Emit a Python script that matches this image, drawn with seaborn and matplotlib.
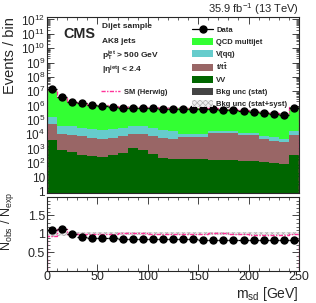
import numpy as np
import pandas as pd
import seaborn as sns
import matplotlib.pyplot as plt
from matplotlib import ticker
from matplotlib.lines import Line2D
from matplotlib.patches import Patch

# soft-drop mass binning, 10 GeV bins
edges = np.arange(0, 260, 10)
centers = edges[:-1] + 5

data = [1.4e7, 4.0e6, 1.9e6, 1.45e6, 1.05e6, 9.4e5, 7.9e5, 7.2e5, 7.2e5, 6.5e5,
        6.5e5, 6.2e5, 6.2e5, 6.2e5, 5.8e5, 5.8e5, 5.5e5, 4.9e5, 4.7e5, 4.2e5,
        3.8e5, 3.2e5, 2.7e5, 2.3e5, 6.5e5]

# stacked heights (top of each layer)
qcd_top = [1.27e7, 3.52e6, 1.88e6, 1.56e6, 1.18e6, 1.06e6, 9.0e5, 8.3e5, 8.3e5, 7.6e5,
           7.6e5, 7.3e5, 7.3e5, 7.3e5, 6.8e5, 6.9e5, 6.5e5, 5.8e5, 5.6e5, 5.0e5,
           4.5e5, 3.8e5, 3.2e5, 2.75e5, 7.8e5]
vqq_top = [1.7e5, 4.0e4, 3.6e4, 2.8e4, 2.4e4, 2.1e4, 2.4e4, 2.8e4, 3.6e4, 3.6e4,
           2.8e4, 1.9e4, 1.6e4, 1.1e4, 1.1e4, 1.1e4, 1.6e4, 1.6e4, 1.6e4, 1.3e4,
           1.3e4, 8.0e3, 6.0e3, 4.5e3, 1.6e4]
tt_top = [4.8e4, 1.1e4, 9.5e3, 7.2e3, 5.5e3, 5.0e3, 5.5e3, 8.0e3, 1.1e4, 1.1e4,
          8.0e3, 5.5e3, 4.7e3, 6.6e3, 6.6e3, 6.6e3, 1.25e4, 1.25e4, 1.25e4, 9.5e3,
          9.5e3, 5.0e3, 3.5e3, 2.8e3, 9.5e3]
vv = [4.2e3, 830, 540, 370, 316, 280, 370, 490, 1100, 830,
      440, 220, 185, 185, 185, 185, 165, 165, 165, 140,
      140, 110, 97, 85, 370]

herwig_ratio = [0.94, 1.14, 1.0, 1.0, 1.0, 1.0, 1.01, 1.02, 1.02, 1.02,
                1.01, 1.0, 1.0, 1.0, 1.0, 1.01, 1.02, 1.02, 1.01, 1.0,
                0.98, 0.98, 0.98, 0.98, 0.99]
unc_syst = [0.07, 0.06, 0.05, 0.045, 0.04, 0.04, 0.04, 0.04, 0.04, 0.04,
            0.04, 0.04, 0.04, 0.04, 0.04, 0.04, 0.04, 0.04, 0.04, 0.04,
            0.04, 0.04, 0.04, 0.04, 0.04]
unc_stat = [0.01] * 25

sns.set_style("ticks")
plt.rcParams['font.family'] = ['Liberation Sans', 'DejaVu Sans']
plt.rcParams['mathtext.fontset'] = 'custom'
plt.rcParams['mathtext.rm'] = 'Liberation Sans'
plt.rcParams['mathtext.it'] = 'Liberation Sans:italic'
plt.rcParams['mathtext.bf'] = 'Liberation Sans:bold'
plt.rcParams['hatch.linewidth'] = 0.5
plt.rcParams['axes.linewidth'] = 0.8

fig = plt.figure(figsize=(3.16, 3.03), dpi=100)
ax = fig.add_axes([0.149, 0.363, 0.797, 0.581])
rax = fig.add_axes([0.149, 0.106, 0.797, 0.244])

c_qcd, c_vqq, c_tt, c_vv = '#33ff33', '#66cccc', '#996666', '#006600'
pink = '#ff3399'
band_face, band_edge = '#eeeeee', '#b0b0b0'

ax.set_yscale('log')
for vals, col in [(qcd_top, c_qcd), (vqq_top, c_vqq), (tt_top, c_tt), (vv, c_vv)]:
    df = pd.DataFrame({'msd': centers, 'w': vals})
    sns.histplot(data=df, x='msd', weights='w', binwidth=10, binrange=(0, 250),
                 element='step', fill=True, color=col, alpha=1, linewidth=0, ax=ax)

total = np.array(qcd_top)
ext = lambda a: np.append(a, a[-1])
syst = np.array(unc_syst)
stat = np.array(unc_stat)
ax.fill_between(edges, ext(total * (1 - syst)), ext(total * (1 + syst)), step='post',
                facecolor=band_face, edgecolor=band_edge, hatch='xxxxxx', linewidth=0)
ax.stairs(total * np.array(herwig_ratio), edges, color=pink, lw=1.0, ls=(0, (3, 1, 1, 1)))
ax.errorbar(centers, data, xerr=5, fmt='o', color='k', ms=5, lw=0.9, capsize=0)

ax.set_xlim(0, 250)
ax.set_ylim(0.8, 1.5e12)
ax.yaxis.set_major_locator(ticker.LogLocator(base=10, numticks=30))
ax.yaxis.set_minor_locator(ticker.LogLocator(base=10, subs=np.arange(2, 10), numticks=300))
ax.yaxis.set_minor_formatter(ticker.NullFormatter())


def pow_fmt(v, pos):
    if v < 1.5:
        return '1'
    if v < 15:
        return '10'
    return r'$10^{%d}$' % round(np.log10(v))


ax.yaxis.set_major_formatter(ticker.FuncFormatter(pow_fmt))
ax.set_xticklabels([])
ax.set_xlabel('')
ax.set_ylabel('Events / bin', fontsize=10.5, loc='top')
ax.yaxis.set_label_coords(-0.119, 1.0)

# ratio panel
ratio = np.array(data) / total
rax.fill_between(edges, ext(1 - syst), ext(1 + syst), step='post',
                 facecolor=band_face, edgecolor=band_edge, hatch='xxxxxx', linewidth=0)
rax.fill_between(edges, ext(1 - stat), ext(1 + stat), step='post',
                 facecolor='#888888', linewidth=0)
rax.stairs(herwig_ratio, edges, color=pink, lw=1.0, ls=(0, (3, 1, 1, 1)))
rax.errorbar(centers, ratio, xerr=5, fmt='o', color='k', ms=5, lw=0.9, capsize=0)
rax.set_xlim(0, 250)
rax.set_ylim(0, 2)
rax.set_yticks([0.5, 1, 1.5])
rax.set_yticklabels(['0.5', '1', '1.5'])
rax.yaxis.set_minor_locator(ticker.MultipleLocator(0.1))
rax.set_xlabel(r'$\mathregular{m_{sd}}$ [GeV]', fontsize=10, loc='right')
rax.xaxis.set_label_coords(1.0, -0.19)
rax.set_ylabel(r'$\mathregular{N_{obs}}$ / $\mathregular{N_{exp}}$', fontsize=9, loc='top')
rax.yaxis.set_label_coords(-0.125, 1.06)

for a in (ax, rax):
    a.xaxis.set_major_locator(ticker.MultipleLocator(50))
    a.xaxis.set_minor_locator(ticker.MultipleLocator(10))
    a.tick_params(which='both', direction='in', top=True, right=True, labelsize=8.5, pad=1.5)
    a.tick_params(which='major', length=5, width=0.6)
    a.tick_params(which='minor', length=2.5, width=0.5)
rax.tick_params(axis='x', labelsize=9, pad=0)
rax.tick_params(axis='y', labelsize=9)

# annotations
ax.text(0.063, 0.905, 'CMS', transform=ax.transAxes, fontsize=10.4, fontweight='bold', va='center')
ax.text(1.0, 1.02, r'35.9 fb$^{-1}$ (13 TeV)', transform=ax.transAxes, fontsize=8,
        ha='right', va='baseline')
info = ['Dijet sample', 'AK8 jets', r'$\mathbf{p_T^{jet}}$ > 500 GeV', r'|$\mathbf{\eta^{jet}}$| < 2.4']
for s, yp in zip(info, [27, 41.5, 55.5, 70.5]):
    ax.text(0.217, 1 - (yp - 17) / 176, s, transform=ax.transAxes, fontsize=6.0,
            fontweight='bold', va='center')

handles = [
    Line2D([], [], color='k', marker='o', ms=5, lw=0.9),
    Patch(facecolor=c_qcd, edgecolor='none'),
    Patch(facecolor=c_vqq, edgecolor='none'),
    Patch(facecolor=c_tt, edgecolor='none'),
    Patch(facecolor=c_vv, edgecolor='none'),
    Patch(facecolor='#444444', edgecolor='none'),
    Patch(facecolor=band_face, edgecolor=band_edge, hatch='xxxxxx', linewidth=0),
]
labels = ['Data', 'QCD multijet', 'V(qq)', r'$\mathbf{t/t\bar{t}}$', 'VV',
          'Bkg unc (stat)', 'Bkg unc (stat+syst)']
leg = ax.legend(handles, labels, loc='upper left', bbox_to_anchor=(0.575, 0.948),
                frameon=False, prop={'size': 5.5, 'weight': 'bold'},
                handlelength=2.8, handleheight=1.1, handletextpad=0.4,
                labelspacing=0.47, borderaxespad=0, borderpad=0)
ax.add_artist(leg)
ax.legend([Line2D([], [], color=pink, lw=1.0, ls=(0, (3, 1, 1, 1)))], ['SM (Herwig)'],
          loc='center left', bbox_to_anchor=(0.213, 1 - (92.5 - 17) / 176),
          frameon=False, prop={'size': 5.4, 'weight': 'bold'},
          handlelength=2.6, handletextpad=0.5, borderaxespad=0, borderpad=0)

fig.savefig('out.png', dpi=100)
